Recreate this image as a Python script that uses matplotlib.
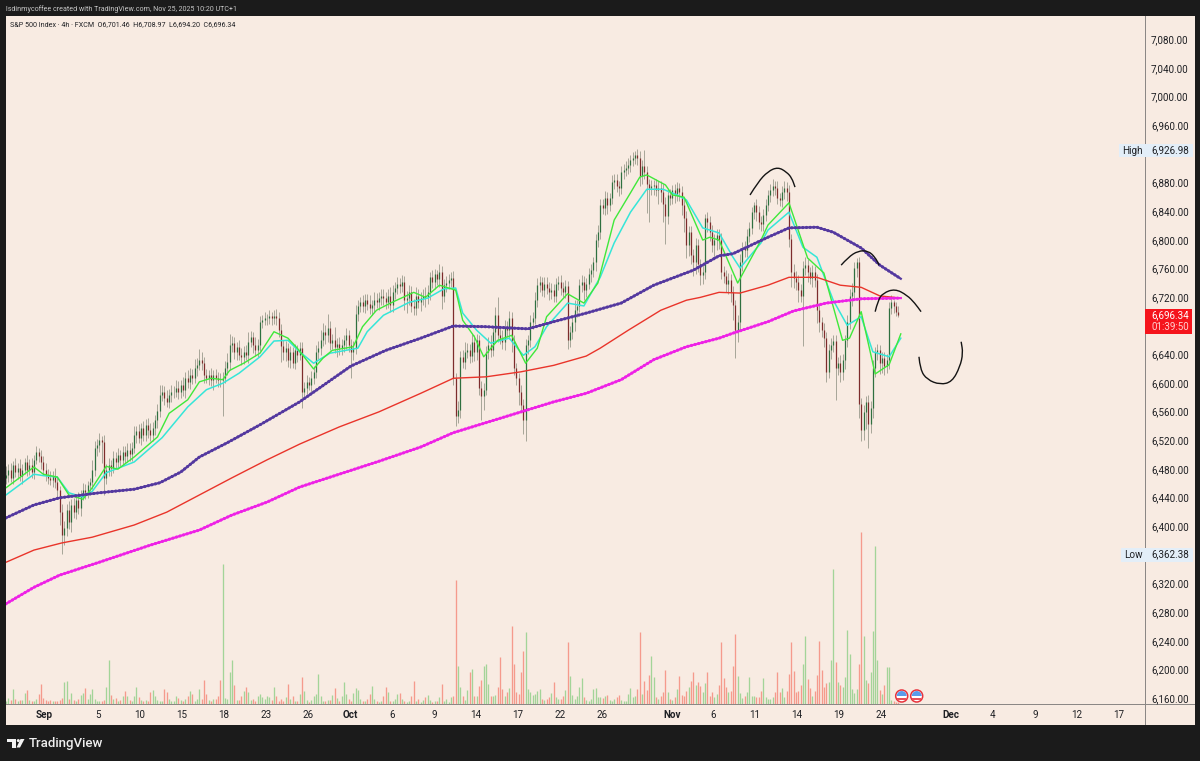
"""SPX 4h chart with moving averages, volume and hand-drawn arcs."""
import matplotlib
matplotlib.use("Agg")
import matplotlib.pyplot as plt
import numpy as np
from matplotlib.patches import Circle, PathPatch, Polygon, Rectangle, Wedge
from matplotlib.path import Path
from matplotlib.transforms import IdentityTransform

plt.rcParams["font.family"] = ["Roboto", "DejaVu Sans"]

W, H = 1200, 761
BG = "#f8ebe2"
DARK = "#1b1b1b"
INK = "#1f2024"

FIRST_OPEN = 6468
CLOSE = [
    6473, 6480, 6469, 6487, 6477, 6483, 6472, 6480, 6491, 6480, 6487, 6477, 6494, 6505, 6499, 6491, 6480, 6473,
    6469, 6466, 6472, 6463, 6452, 6421, 6389, 6399, 6424, 6407, 6431, 6421, 6438, 6427, 6445, 6452, 6449, 6459,
    6463, 6480, 6511, 6515, 6522, 6519, 6469, 6480, 6487, 6483, 6497, 6491, 6501, 6494, 6505, 6499, 6508, 6502,
    6511, 6529, 6534, 6525, 6539, 6529, 6543, 6536, 6529, 6539, 6550, 6562, 6585, 6589, 6581, 6575, 6585, 6589,
    6589, 6595, 6589, 6599, 6592, 6609, 6603, 6613, 6609, 6623, 6627, 6634, 6629, 6612, 6609, 6613, 6606, 6612,
    6609, 6606, 6605, 6609, 6623, 6631, 6654, 6657, 6645, 6651, 6641, 6637, 6645, 6640, 6659, 6665, 6655, 6648,
    6655, 6686, 6689, 6692, 6692, 6695, 6692, 6695, 6692, 6675, 6653, 6644, 6650, 6633, 6644, 6630, 6647, 6641,
    6650, 6589, 6595, 6603, 6599, 6609, 6617, 6645, 6650, 6661, 6673, 6668, 6678, 6657, 6661, 6652, 6656, 6650,
    6654, 6661, 6668, 6654, 6644, 6650, 6698, 6709, 6714, 6709, 6717, 6712, 6706, 6710, 6718, 6714, 6720, 6723,
    6720, 6714, 6723, 6710, 6729, 6734, 6740, 6737, 6743, 6717, 6720, 6729, 6709, 6706, 6723, 6714, 6720, 6723,
    6722, 6729, 6749, 6743, 6753, 6746, 6757, 6723, 6738, 6741, 6745, 6748, 6608, 6555, 6564, 6637, 6631, 6645,
    6647, 6639, 6658, 6644, 6661, 6594, 6583, 6592, 6645, 6654, 6647, 6672, 6696, 6668, 6664, 6658, 6680, 6675,
    6692, 6659, 6622, 6608, 6589, 6571, 6550, 6654, 6661, 6686, 6692, 6717, 6738, 6742, 6731, 6740, 6734, 6729,
    6731, 6723, 6740, 6742, 6734, 6729, 6737, 6661, 6673, 6686, 6703, 6709, 6738, 6742, 6731, 6740, 6753, 6759,
    6770, 6801, 6812, 6850, 6846, 6860, 6850, 6860, 6882, 6885, 6877, 6874, 6896, 6899, 6902, 6906, 6913, 6916,
    6920, 6916, 6891, 6905, 6896, 6879, 6874, 6876, 6878, 6871, 6874, 6868, 6851, 6835, 6864, 6860, 6871, 6865,
    6874, 6868, 6850, 6832, 6794, 6812, 6780, 6771, 6794, 6767, 6752, 6756, 6832, 6826, 6812, 6794, 6801, 6808,
    6801, 6756, 6751, 6740, 6745, 6729, 6710, 6675, 6686, 6770, 6790, 6787, 6807, 6818, 6840, 6850, 6840, 6826,
    6823, 6836, 6850, 6864, 6871, 6876, 6874, 6860, 6857, 6868, 6874, 6868, 6802, 6756, 6748, 6743, 6731, 6723,
    6762, 6766, 6756, 6748, 6756, 6745, 6703, 6686, 6675, 6664, 6617, 6647, 6654, 6660, 6622, 6630, 6617, 6633,
    6661, 6686, 6723, 6729, 6762, 6771, 6572, 6536, 6561, 6575, 6544, 6566, 6622, 6644, 6647, 6630, 6636, 6625,
    6633, 6706, 6714, 6709, 6701, 6696,
]
UPPER_WICK = [
    12, 8, 10, 6, 9, 7, 12, 8, 6, 10, 8, 9, 7, 8, 6, 9, 8, 10,
    8, 9, 6, 10, 8, 6, 12, 10, 8, 12, 9, 10, 8, 11, 7, 9, 8, 6,
    6, 14, 10, 8, 9, 6, 10, 8, 9, 7, 9, 8, 10, 7, 9, 8, 10, 9,
    8, 12, 7, 10, 6, 9, 8, 10, 9, 8, 7, 10, 14, 9, 8, 10, 8, 9,
    8, 10, 9, 7, 11, 8, 10, 9, 8, 12, 9, 15, 10, 8, 9, 7, 10, 8,
    9, 8, 10, 8, 9, 12, 16, 10, 9, 8, 10, 9, 8, 10, 14, 9, 8, 10,
    8, 9, 7, 8, 6, 8, 6, 9, 10, 8, 9, 8, 10, 7, 9, 8, 9, 8,
    8, 9, 8, 10, 7, 9, 8, 9, 10, 14, 12, 9, 20, 10, 9, 18, 8, 9,
    9, 8, 10, 8, 9, 10, 12, 9, 8, 10, 8, 9, 12, 8, 10, 9, 8, 10,
    9, 8, 10, 12, 9, 8, 10, 8, 9, 8, 10, 9, 8, 10, 12, 9, 8, 10,
    12, 9, 8, 10, 8, 6, 10, 8, 9, 10, 8, 9, 10, 8, 12, 9, 10, 14,
    10, 9, 12, 10, 9, 8, 10, 9, 8, 12, 14, 9, 12, 25, 10, 12, 9, 8,
    10, 8, 9, 8, 7, 10, 8, 9, 8, 10, 9, 12, 10, 9, 8, 10, 9, 8,
    10, 9, 8, 9, 10, 9, 8, 7, 8, 10, 14, 9, 8, 10, 9, 8, 9, 8,
    8, 9, 10, 8, 9, 10, 8, 7, 10, 8, 9, 7, 9, 8, 10, 9, 7, 8,
    6, 8, 10, 8, 22, 9, 8, 9, 7, 8, 9, 10, 12, 10, 8, 9, 7, 8,
    8, 7, 9, 8, 10, 8, 9, 8, 10, 9, 8, 10, 6, 8, 9, 10, 8, 9,
    9, 10, 9, 8, 10, 9, 8, 7, 10, 12, 9, 10, 9, 8, 7, 4, 9, 8,
    8, 9, 8, 7, 9, 10, 8, 9, 7, 8, 9, 8, 10, 8, 12, 10, 9, 8,
    10, 12, 9, 8, 10, 9, 8, 9, 8, 10, 8, 9, 10, 8, 9, 8, 10, 9,
    8, 10, 9, 12, 8, 5, 6, 9, 10, 8, 9, 10, 12, 8, 9, 7, 8, 9,
    9, 8, 10, 4, 6, 8,
]
LOWER_WICK = [
    8, 10, 6, 9, 7, 10, 8, 12, 6, 9, 7, 8, 10, 6, 8, 10, 7, 9,
    9, 7, 10, 8, 12, 18, 27, 14, 12, 10, 14, 8, 10, 9, 11, 7, 10, 8,
    9, 10, 8, 12, 10, 30, 24, 9, 8, 11, 7, 10, 8, 9, 7, 10, 8, 9,
    9, 8, 11, 7, 10, 8, 9, 12, 8, 9, 10, 12, 8, 9, 10, 7, 9, 10,
    9, 7, 10, 8, 9, 11, 8, 10, 9, 7, 12, 8, 9, 10, 8, 11, 9, 14,
    8, 10, 9, 50, 8, 10, 12, 9, 10, 12, 8, 10, 9, 7, 10, 8, 12, 9,
    10, 9, 8, 7, 9, 8, 10, 8, 9, 10, 22, 10, 12, 9, 10, 8, 9, 10,
    8, 22, 10, 9, 8, 10, 9, 8, 10, 9, 8, 12, 9, 10, 8, 9, 14, 10,
    10, 9, 12, 9, 35, 10, 8, 10, 9, 8, 10, 9, 8, 10, 9, 8, 10, 9,
    10, 9, 8, 10, 9, 10, 8, 10, 9, 14, 18, 10, 8, 10, 9, 8, 12, 10,
    14, 10, 12, 9, 10, 8, 10, 18, 9, 10, 8, 9, 10, 14, 10, 12, 9, 10,
    9, 10, 8, 12, 10, 10, 33, 20, 8, 10, 9, 8, 12, 10, 8, 9, 10, 9,
    12, 14, 10, 9, 18, 10, 20, 30, 12, 10, 9, 8, 10, 9, 8, 10, 9, 12,
    10, 9, 8, 9, 10, 8, 9, 12, 9, 10, 12, 9, 8, 10, 14, 9, 8, 10,
    9, 12, 10, 9, 8, 10, 12, 9, 8, 10, 9, 12, 8, 10, 9, 8, 10, 9,
    9, 10, 14, 12, 10, 40, 48, 10, 12, 9, 20, 14, 25, 40, 12, 10, 9, 12,
    10, 12, 14, 20, 18, 15, 12, 20, 18, 10, 14, 12, 10, 14, 12, 10, 20, 14,
    12, 9, 10, 12, 14, 14, 20, 39, 16, 10, 12, 9, 10, 8, 9, 10, 12, 9,
    9, 10, 9, 8, 10, 9, 10, 8, 9, 10, 9, 12, 10, 20, 14, 12, 16, 9,
    70, 10, 14, 9, 12, 10, 18, 14, 10, 12, 14, 9, 12, 10, 44, 10, 14, 12,
    12, 10, 9, 14, 10, 12, 20, 16, 14, 24, 34, 12, 14, 12, 10, 16, 14, 12,
    10, 12, 8, 10, 6, 2,
]
VOLUME = [
    3, 6, 4, 15, 5, 3, 4, 4, 11, 14, 4, 3, 3, 5, 10, 20, 6, 4,
    3, 4, 3, 3, 3, 4, 6, 22, 23, 5, 11, 4, 3, 5, 9, 11, 16, 5,
    10, 15, 5, 3, 3, 3, 4, 17, 44, 9, 5, 6, 3, 4, 8, 13, 8, 4,
    3, 8, 17, 7, 4, 3, 4, 3, 12, 14, 8, 4, 3, 3, 15, 12, 5, 3,
    3, 8, 6, 4, 3, 5, 8, 13, 10, 3, 5, 15, 5, 24, 10, 4, 3, 5,
    5, 8, 24, 140, 6, 5, 32, 44, 19, 4, 4, 8, 13, 17, 12, 4, 5, 3,
    8, 10, 7, 5, 8, 7, 4, 17, 8, 3, 5, 3, 7, 20, 5, 8, 3, 3,
    10, 27, 13, 4, 2, 4, 8, 10, 30, 8, 3, 3, 4, 4, 9, 16, 6, 3,
    8, 22, 10, 5, 3, 11, 16, 14, 5, 3, 3, 5, 10, 18, 5, 3, 2, 3,
    8, 17, 12, 3, 3, 5, 10, 11, 5, 3, 2, 3, 8, 23, 3, 5, 2, 4,
    7, 9, 4, 2, 3, 3, 7, 20, 3, 5, 2, 7, 8, 124, 38, 17, 8, 4,
    14, 32, 35, 8, 8, 18, 24, 38, 40, 20, 8, 8, 9, 17, 47, 15, 8, 12,
    16, 78, 40, 12, 10, 32, 53, 72, 15, 12, 9, 10, 13, 15, 5, 4, 5, 7,
    11, 22, 7, 5, 5, 8, 14, 62, 28, 9, 5, 8, 17, 26, 7, 4, 3, 5,
    15, 16, 7, 7, 6, 8, 9, 4, 3, 5, 7, 9, 4, 3, 3, 10, 16, 7,
    8, 15, 72, 10, 23, 14, 29, 48, 27, 7, 5, 8, 12, 34, 12, 5, 4, 7,
    15, 28, 9, 8, 13, 17, 23, 32, 19, 22, 18, 12, 21, 32, 8, 12, 7, 10,
    19, 62, 26, 17, 12, 13, 38, 70, 28, 11, 6, 8, 12, 27, 8, 8, 7, 7,
    13, 26, 7, 5, 5, 7, 12, 32, 12, 16, 7, 13, 30, 62, 33, 12, 13, 19,
    40, 68, 25, 16, 8, 13, 29, 63, 34, 17, 21, 22, 44, 135, 42, 22, 19, 17,
    27, 74, 50, 15, 11, 15, 40, 172, 68, 24, 21, 32, 73, 158, 44, 14, 10, 19,
    37, 37, 4, 3, 2, 2,
]

PURPLE_X = [0, 12, 23, 40, 55, 66, 75, 83, 95, 109, 126, 148, 163, 178, 192, 206, 224, 235, 249, 264, 278, 295, 306, 312, 327, 336, 348, 355, 367, 375, 384]
PURPLE_Y = [6413, 6431, 6441, 6448, 6453, 6462, 6477, 6498, 6518, 6543, 6575, 6625, 6647, 6664, 6681, 6680, 6677, 6687, 6699, 6713, 6738, 6759, 6779, 6782, 6805, 6818, 6819, 6812, 6790, 6766, 6747]
RED_X = [0, 12, 24, 37, 55, 69, 83, 97, 112, 126, 143, 160, 178, 192, 206, 221, 235, 249, 255, 267, 281, 292, 298, 306, 315, 327, 336, 348, 358, 367, 375, 384]
RED_Y = [6351, 6368, 6378, 6386, 6403, 6421, 6445, 6469, 6494, 6516, 6540, 6561, 6587, 6608, 6610, 6617, 6626, 6639, 6650, 6675, 6703, 6717, 6721, 6728, 6727, 6738, 6749, 6749, 6738, 6735, 6723, 6720]
MAGENTA_X = [0, 12, 23, 40, 62, 83, 97, 112, 126, 143, 160, 178, 192, 206, 221, 235, 249, 264, 278, 292, 306, 312, 327, 338, 352, 367, 384]
MAGENTA_Y = [6293, 6316, 6333, 6351, 6375, 6396, 6417, 6435, 6456, 6474, 6492, 6512, 6532, 6546, 6561, 6575, 6587, 6606, 6634, 6652, 6664, 6671, 6687, 6702, 6713, 6719, 6720]
GREEN_X = [0, 12, 16, 22, 27, 33, 37, 43, 48, 55, 65, 70, 78, 83, 88, 93, 96, 102, 109, 115, 121, 125, 132, 136, 140, 149, 153, 159, 165, 175, 180, 186, 193, 196, 201, 205, 211, 217, 223, 228, 232, 241, 248, 254, 261, 268, 272, 275, 283, 286, 291, 299, 302, 306, 314, 324, 327, 336, 344, 351, 359, 362, 367, 373, 379, 384]
GREEN_Y = [6455, 6484, 6474, 6470, 6445, 6439, 6455, 6485, 6481, 6498, 6526, 6559, 6578, 6603, 6608, 6606, 6619, 6629, 6643, 6673, 6664, 6650, 6621, 6636, 6647, 6652, 6680, 6703, 6713, 6728, 6721, 6738, 6731, 6689, 6666, 6638, 6661, 6668, 6629, 6650, 6694, 6726, 6713, 6741, 6829, 6867, 6889, 6892, 6878, 6864, 6861, 6801, 6805, 6801, 6741, 6801, 6822, 6853, 6776, 6755, 6661, 6664, 6701, 6614, 6627, 6670]
CYAN_X = [0, 12, 16, 22, 27, 33, 37, 43, 55, 67, 78, 86, 93, 100, 109, 115, 121, 126, 132, 139, 151, 155, 162, 173, 181, 188, 193, 196, 202, 208, 216, 222, 227, 232, 241, 248, 255, 261, 268, 275, 282, 288, 292, 299, 306, 312, 315, 324, 327, 336, 342, 348, 355, 361, 367, 372, 379, 384]
CYAN_Y = [6445, 6474, 6472, 6470, 6448, 6442, 6450, 6476, 6491, 6525, 6568, 6592, 6601, 6615, 6638, 6660, 6661, 6645, 6629, 6643, 6650, 6673, 6696, 6714, 6720, 6733, 6734, 6699, 6675, 6657, 6664, 6640, 6652, 6680, 6713, 6709, 6749, 6797, 6840, 6872, 6872, 6864, 6857, 6818, 6811, 6777, 6762, 6797, 6815, 6840, 6791, 6777, 6717, 6682, 6694, 6645, 6638, 6664]

ARCS = [
    ([319.3, 322.7, 327, 331.3, 335, 337.2, 338.6], [6864, 6882, 6897, 6903, 6896, 6888, 6875]),
    ([358.4, 361.4, 365.7, 370, 373, 374.7], [6766, 6777, 6786, 6786, 6777, 6766]),
    ([373, 374.2, 376.4, 381.5, 386.7, 390, 392.7], [6701, 6717, 6727, 6733, 6724, 6713, 6701]),
    ([391.8, 392.3, 395.3, 400.9, 406, 409.4, 410.7, 409.9], [6638, 6620, 6606, 6599, 6603, 6624, 6643, 6659]),
]

PRICE_TICKS = [p for p in range(6160, 7081, 40) if p not in (6360, 6680, 6920)]
TIME_TICKS = [16.3, 39.5, 57.5, 75.5, 93.6, 111.6, 129.6, 147.6, 165.7, 183.7, 201.7, 219.7, 237.8, 255.8,
              285.8, 303.4, 321.5, 339.5, 357.5, 375.5, 405.6, 423.6, 441.6, 459.7, 477.7]
TIME_LABELS = ["Sep", "5", "10", "15", "18", "23", "26", "Oct", "6", "9", "14", "17", "22", "26",
               "Nov", "6", "11", "14", "19", "24", "Dec", "4", "9", "12", "17"]
MONTHS = {"Sep", "Oct", "Nov", "Dec"}


def box(l, t, r, b):
    """axes rectangle from pixel edges, y measured from the top"""
    return [l / W, 1 - b / H, (r - l) / W, (b - t) / H]


def rect(l, t, r, b, color, z=0):
    fig.patches.append(Rectangle((l, H - b), r - l, b - t, transform=IdentityTransform(),
                                 facecolor=color, edgecolor="none", zorder=z, figure=fig))


def label(x, y, s, **kw):
    fig.text(x / W, 1 - y / H, s, va="center", **kw)


fig = plt.figure(figsize=(W / 100, H / 100), dpi=100, facecolor=DARK)
rect(6, 16, 1195, 725, BG)

ax = fig.add_axes(box(6, 16, 1145, 704), facecolor="none")
ax.set_xlim(0, 488.8)
ax.set_ylim(6153, 7114)
ax.set_zorder(2)

vol_ax = fig.add_axes(box(6, 16, 1145, 704), facecolor="none")
vol_ax.set_xlim(0, 488.8)
vol_ax.set_ylim(0, 688)
vol_ax.axis("off")
vol_ax.set_zorder(1)

close = np.array(CLOSE, dtype=float)
open_ = np.r_[FIRST_OPEN, close[:-1]]
bars = np.arange(len(close))
top = np.maximum(open_, close)
bottom = np.minimum(open_, close)
up = close >= open_

ax.vlines(bars, bottom - np.array(LOWER_WICK), top + np.array(UPPER_WICK), color="#9a9a8c", lw=0.6, zorder=2)
ax.vlines(bars[up], bottom[up], top[up], color="#2f7040", lw=0.9, zorder=3)
ax.vlines(bars[~up], bottom[~up], top[~up], color="#7d2c2c", lw=0.9, zorder=3)

vol_n = len(VOLUME)
vol_ax.vlines(bars[:vol_n], 0, VOLUME, lw=0.95,
              colors=["#a3d498" if u else "#f59a8c" for u in up[:vol_n]])

ax.plot(CYAN_X, CYAN_Y, color="#35e6d8", lw=1.1, zorder=4)
ax.plot(GREEN_X, GREEN_Y, color="#3fe83a", lw=1.0, zorder=4)
ax.plot(RED_X, RED_Y, color="#e9342a", lw=1.0, zorder=5)
# the two slow averages look beaded in the reference
for xs, ys, col in ((PURPLE_X, PURPLE_Y, "#54389f"), (MAGENTA_X, MAGENTA_Y, "#ee22e6")):
    ax.plot(xs, ys, color=col, lw=1.6, zorder=5)
    ax.plot(xs, ys, color=col, lw=2.3, ls=(0, (0.05, 1.1)), dash_capstyle="round", zorder=5)

# hand-drawn arcs: quadratic segments through the read points
for xs, ys in ARCS:
    pts = np.column_stack([xs, ys])
    mids = (pts[:-1] + pts[1:]) / 2
    verts = [pts[0]]
    codes = [Path.MOVETO]
    for ctrl, end in zip(pts[1:-1], mids[1:]):
        verts += [ctrl, end]
        codes += [Path.CURVE3, Path.CURVE3]
    verts.append(pts[-1])
    codes.append(Path.LINETO)
    ax.add_patch(PathPatch(Path(verts, codes), fc="none", ec="#141414", lw=1.0, zorder=6))

for sp in ax.spines.values():
    sp.set_visible(False)
ax.set_yticks(PRICE_TICKS)
ax.set_yticklabels([])
ax.set_xticks(TIME_TICKS)
ax.set_xticklabels([])
ax.tick_params(length=0)

# axis frame lines and labels
rect(1144.5, 16, 1145.5, 725, "#8b8785", 1)
rect(6, 703.6, 1195, 704.6, "#8b8785", 1)

for p in PRICE_TICKS:
    y = 183.5 + (6880 - p) * 0.716
    label(1151, y, f"{p:,.2f}", color=INK, fontsize=7.1)
for b, s in zip(TIME_TICKS, TIME_LABELS):
    label(6 + b * 2.33, 715, s, color=INK, fontsize=7.1, ha="center",
          fontweight="bold" if s in MONTHS else "normal")

rect(1119, 144, 1193, 157, "#e3eef8", 3)
label(1122, 150.5, "High", color=INK, fontsize=7.1, zorder=4)
label(1151, 150.5, "6,926.98", color=INK, fontsize=7.1, zorder=4)
rect(1121, 548, 1193, 562, "#e3eef8", 3)
label(1124, 554.5, "Low", color=INK, fontsize=7.1, zorder=4)
label(1151, 554.5, "6,362.38", color=INK, fontsize=7.1, zorder=4)
rect(1145, 309, 1192, 334, "#f5141c", 3)
label(1151, 315, "6,696.34", color="white", fontsize=7.1, zorder=4)
label(1151, 327, "01:39:50", color="#ffd0d0", fontsize=7.1, zorder=4)

label(6, 9, "lsdinmycoffee created with TradingView.com, Nov 25, 2025 10:20 UTC+1", color="#c8c8c8", fontsize=5.1)
label(10, 25, "S&P 500 Index · 4h · FXCM  O6,701.46  H6,708.97  L6,694.20  C6,696.34", color=INK, fontsize=5.1)

# US event flags on the time axis
for cx in (901.7, 916.7):
    fig.patches.append(Circle((cx, H - 696), 6, transform=IdentityTransform(), fc="#ffffff",
                              ec="#e8323c", lw=1.1, zorder=5, figure=fig))
    fig.patches.append(Wedge((cx, H - 696), 5, 0, 180, transform=IdentityTransform(), fc="#5b9bea",
                             ec="none", zorder=6, figure=fig))
    fig.patches.append(Rectangle((cx - 4.5, H - 699.5), 9, 1.2, transform=IdentityTransform(), fc="#e8505a",
                                 ec="none", zorder=7, figure=fig))

# TradingView logo
logo = [
    [(7, 739), (15.5, 739), (15.5, 747.5), (12, 747.5), (12, 742), (7, 742)],
    [(16.5, 747.5), (20.5, 739), (24.5, 739), (20, 747.5)],
]
for poly in logo:
    fig.patches.append(Polygon([(x, H - y) for x, y in poly], closed=True, transform=IdentityTransform(),
                               fc="#f2f2f2", ec="none", zorder=5, figure=fig))
fig.patches.append(Circle((18.3, H - 740.6), 1.5, transform=IdentityTransform(), fc="#f2f2f2", ec="none",
                          zorder=5, figure=fig))
label(29, 743, "TradingView", color="#eeeeee", fontsize=9.5, fontweight="medium")

fig.savefig("out.png", dpi=100, facecolor=fig.get_facecolor())
